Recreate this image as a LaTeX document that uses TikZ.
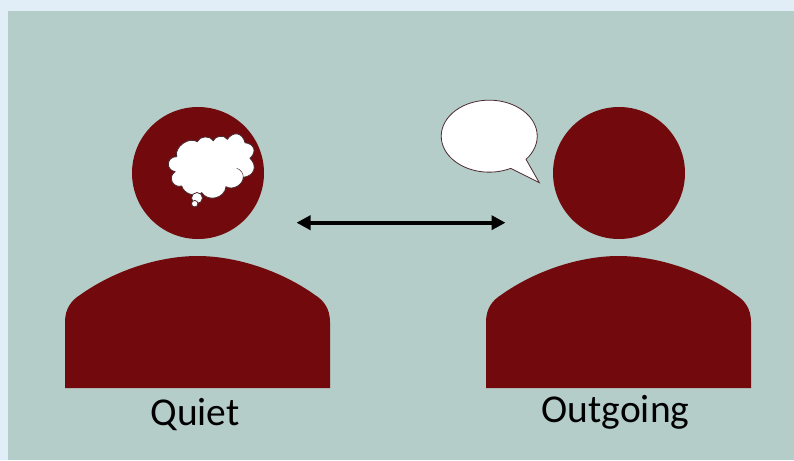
\documentclass[tikz,border=0pt]{standalone}
\usepackage{fontspec}
\setmainfont{Carlito}
\usetikzlibrary{arrows.meta, positioning}
\definecolor{pagebg}{HTML}{E1EEF7}
\definecolor{panel}{HTML}{B4CDC8}
\definecolor{maroon}{HTML}{720A0D}
\definecolor{bubbleline}{HTML}{4A2A30}
\tikzset{
	head/.style={circle, fill=maroon, inner sep=0pt, minimum size=132pt},
	label/.style={anchor=base, black, font=\fontsize{39.5}{48}\selectfont},
	bubble/.style={fill=white, draw=bubbleline, line width=.8pt},
}

\begin{document}
\begin{tikzpicture}[x=1pt, y=-1pt]
	\useasboundingbox (0,0) rectangle (794,460);
	\fill[pagebg] (0,0) rectangle (794,460);
	\fill[panel] (8,11) rectangle (794,460);

	% heads
	\node[head] (quiethead) at (198,173) {};
	\node[head] (outgoinghead) at (619,173) {};

	% bodies
	\foreach \dx in {0,421} {
		\fill[maroon, xshift=\dx pt] (65,388) -- (65,322) .. controls (65,308) and (72,300) .. (80,295) .. controls (115,270) and (160,256) .. (197.5,256) .. controls (235,256) and (280,270) .. (315,295) .. controls (323,300) and (330,308) .. (330,322) -- (330,388) -- cycle;
	}

	% thought cloud
	\draw[bubble] (176.7,156.7) to[bend left=70] (197.3,141.7) to[bend left=65] (213.3,140.7) to[bend left=65] (227.3,139.3) to[bend left=65, looseness=1.5] (245,142.7) to[bend left=65, looseness=1.5] (250,158.3) to[bend left=65, looseness=1.4] (243.3,177.3) to[bend left=60] (226,186.7) to[bend left=70, looseness=1.2] (201.7,192.7) to[bend left=55] (181.7,186) to[bend left=80, looseness=1.5] (175,171.7) to[bend left=85, looseness=1.7] (176.7,156.7) -- cycle;
	\draw[bubbleline, line width=.5pt] (236.7,168.3) to[bend left=35] (243.3,177.3);
	\node[bubble, circle, inner sep=0pt, minimum size=11pt] (cloudbig) at (197,198) {};
	\node[bubble, circle, inner sep=0pt, minimum size=6.5pt] (cloudsmall) at (194.7,203.7) {};

	% speech bubble
	\draw[bubble] (526,159.3) arc[start angle=40, end angle=-296.5, x radius=48, y radius=36] -- (539.3,182.7) -- cycle;

	% arrow
	\coordinate (arrowleft) at (296.5,222.7);
	\coordinate (arrowright) at (505.5,222.7);
	\draw[{Triangle[length=14pt,width=14pt]}-{Triangle[length=14pt,width=14pt]}, line width=4pt, black] (arrowleft) -- (arrowright);

	% labels
	\node[label] (quietlabel) at (195,425) {Quiet};
	\node[label] (outgoinglabel) at (615.5,422) {Outgoing};
\end{tikzpicture}
\end{document}
